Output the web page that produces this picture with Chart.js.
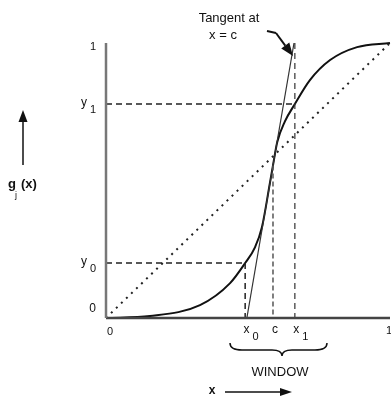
<!DOCTYPE html>
<html>
<head>
<meta charset="utf-8">
<script src="https://cdn.jsdelivr.net/npm/chart.js@4.4.0/dist/chart.umd.min.js"></script>
<style>
  html, body { margin: 0; padding: 0; background: #fff; }
  #wrap { width: 391px; height: 400px; }
</style>
</head>
<body>
<div id="wrap"><canvas id="chart" width="391" height="400"></canvas></div>
<script>
// transfer function g_j(x)
const curveX = [0, 0.155, 0.331, 0.437, 0.49, 0.525, 0.549, 0.577, 0.588, 0.603, 0.63, 0.665, 0.718, 0.789, 0.884, 1];
const curveY = [0, 0.007, 0.047, 0.127, 0.2, 0.258, 0.33, 0.49, 0.555, 0.64, 0.715, 0.778, 0.865, 0.938, 0.985, 1];

// window limits and inflection point
const x0 = 0.49, y0 = 0.2;
const c = 0.588, yc = 0.555;
const x1 = 0.665, y1 = 0.778;

// tangent at x = c
const tangentX = [0.496, 0.662];
const tangentY = [0, 1];

// identity line
const diagX = [0, 1];
const diagY = [0, 1];

function pts(xs, ys) {
  return xs.map((x, i) => ({ x: x, y: ys[i] }));
}

function line(data, color, width, dash) {
  return {
    type: 'line',
    data: data,
    borderColor: color,
    borderWidth: width,
    borderDash: dash || [],
    pointRadius: 0,
    fill: false,
    clip: false
  };
}

const dash = [6, 4];

const labelsPlugin = {
  id: 'labels',
  afterDatasetsDraw(chart) {
    const ctx = chart.ctx;
    const xs = chart.scales.x;
    const ys = chart.scales.y;
    const px = v => xs.getPixelForValue(v);
    const py = v => ys.getPixelForValue(v);

    ctx.save();
    ctx.fillStyle = '#111';
    ctx.strokeStyle = '#111';
    ctx.textBaseline = 'middle';

    function sub(main, s, x, y, align) {
      ctx.font = '12px "Liberation Sans", Arial, sans-serif';
      ctx.textAlign = 'left';
      const w = ctx.measureText(main).width;
      ctx.font = '11px "Liberation Sans", Arial, sans-serif';
      const ws = ctx.measureText(s).width;
      let left = x;
      if (align === 'center') left = x - (w + 3 + ws) / 2;
      if (align === 'right') left = x - (w + 3 + ws);
      ctx.font = '12px "Liberation Sans", Arial, sans-serif';
      ctx.fillText(main, left, y);
      ctx.font = '11px "Liberation Sans", Arial, sans-serif';
      ctx.fillText(s, left + w + 3, y + 7);
    }

    // y-axis labels
    ctx.font = '11px "Liberation Sans", Arial, sans-serif';
    ctx.textAlign = 'right';
    ctx.fillText('1', px(0) - 10, py(1) + 4);
    ctx.font = '12px "Liberation Sans", Arial, sans-serif';
    ctx.fillText('0', px(0) - 10, py(0) - 9);
    sub('y', '1', px(0) - 10, py(y1) - 1, 'right');
    sub('y', '0', px(0) - 10, py(y0) - 1, 'right');

    // x-axis labels
    ctx.textAlign = 'center';
    ctx.font = '11px "Liberation Sans", Arial, sans-serif';
    ctx.fillText('0', px(0) + 4, py(0) + 14);
    ctx.fillText('1', px(1) - 1, py(0) + 13);
    sub('x', '0', px(x0) + 6, py(0) + 12, 'center');
    ctx.textAlign = 'center';
    ctx.font = '12px "Liberation Sans", Arial, sans-serif';
    ctx.fillText('c', px(c) + 2, py(0) + 12);
    sub('x', '1', px(x1) + 6, py(0) + 12, 'center');

    // brace under the window
    const bl = 230, br = 327, bm = 282, bt = 343, bb = 356;
    ctx.lineWidth = 1.5;
    ctx.beginPath();
    ctx.moveTo(bl, bt);
    ctx.quadraticCurveTo(bl, bt + 7, bl + 12, bt + 7);
    ctx.lineTo(bm - 10, bt + 7);
    ctx.quadraticCurveTo(bm, bt + 7, bm, bb);
    ctx.quadraticCurveTo(bm, bt + 7, bm + 10, bt + 7);
    ctx.lineTo(br - 12, bt + 7);
    ctx.quadraticCurveTo(br, bt + 7, br, bt);
    ctx.stroke();

    ctx.font = '13px "Liberation Sans", Arial, sans-serif';
    ctx.textAlign = 'center';
    ctx.fillText('WINDOW', 280, 372);

    // x arrow
    ctx.font = 'bold 12px "Liberation Sans", Arial, sans-serif';
    ctx.fillText('x', 212, 391);
    arrow(225, 392, 292, 392, 1.5, 12, 8);

    // g_j(x) arrow
    arrow(23, 165, 23, 110, 1.5, 12, 9);
    ctx.font = 'bold 13px "Liberation Sans", Arial, sans-serif';
    ctx.textAlign = 'left';
    ctx.fillText('g', 8, 184);
    ctx.fillText('(x)', 21, 184);
    ctx.font = '9px "Liberation Sans", Arial, sans-serif';
    ctx.fillText('j', 15, 196);

    // tangent note
    ctx.font = '13px "Liberation Sans", Arial, sans-serif';
    ctx.textAlign = 'center';
    ctx.fillText('Tangent at', 229, 18);
    ctx.fillText('x = c', 223, 35);
    ctx.lineWidth = 2;
    ctx.beginPath();
    ctx.moveTo(267, 31);
    ctx.lineTo(276, 33);
    ctx.stroke();
    arrow(276, 33, 293, 56, 2, 13, 10);

    ctx.restore();

    function arrow(xa, ya, xb, yb, w, hl, hw) {
      const dx = xb - xa, dy = yb - ya;
      const len = Math.hypot(dx, dy);
      const ux = dx / len, uy = dy / len;
      const bx = xb - ux * hl, by = yb - uy * hl;
      ctx.lineWidth = w;
      ctx.beginPath();
      ctx.moveTo(xa, ya);
      ctx.lineTo(bx, by);
      ctx.stroke();
      ctx.beginPath();
      ctx.moveTo(xb, yb);
      ctx.lineTo(bx - uy * hw / 2, by + ux * hw / 2);
      ctx.lineTo(bx + uy * hw / 2, by - ux * hw / 2);
      ctx.closePath();
      ctx.fill();
    }
  }
};

new Chart(document.getElementById('chart'), {
  type: 'scatter',
  data: {
    datasets: [
      // axes
      line(pts([0, 0], [0, 1]), '#777', 2.5),
      line(pts([0, 1], [0, 0]), '#444', 2.5),
      // guide lines
      line(pts(diagX, diagY), '#222', 2, [2, 5]),
      line(pts([0, x0], [y0, y0]), '#222', 1.5, dash),
      line(pts([x0, x0], [y0, 0]), '#222', 1.5, dash),
      line(pts([0, x1], [y1, y1]), '#222', 1.5, dash),
      line(pts([x1, x1], [1, 0]), '#333', 1.2, dash),
      line(pts([c, c], [yc, 0]), '#555', 1.5, [5, 3]),
      // tangent
      line(pts(tangentX, tangentY), '#333', 1.2),
      // curve
      Object.assign(line(pts(curveX, curveY), '#111', 2), { cubicInterpolationMode: 'monotone' })
    ]
  },
  options: {
    responsive: false,
    animation: false,
    layout: { padding: { left: 106, right: 1, top: 43, bottom: 82 } },
    plugins: { legend: { display: false }, tooltip: { enabled: false } },
    scales: {
      x: { type: 'linear', min: 0, max: 1, display: false },
      y: { type: 'linear', min: 0, max: 1, display: false }
    }
  },
  plugins: [labelsPlugin]
});
</script>
</body>
</html>
